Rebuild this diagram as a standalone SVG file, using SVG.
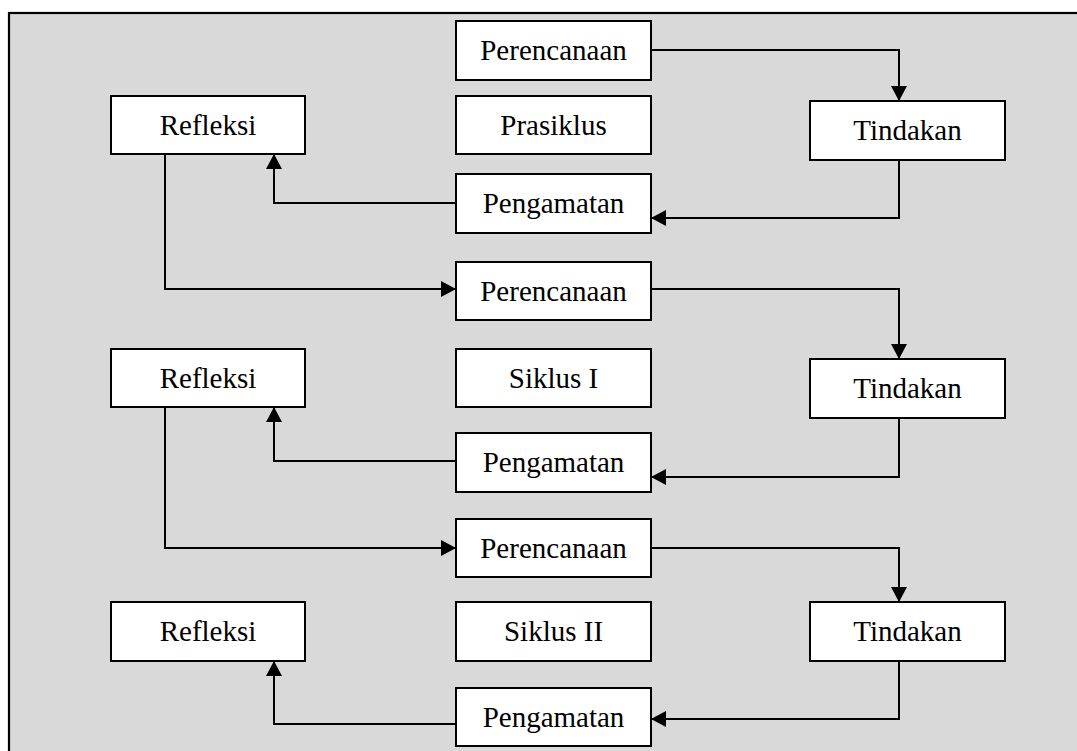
<svg xmlns="http://www.w3.org/2000/svg" width="1077" height="751" viewBox="0 0 1077 751" font-family="Times New Roman" font-size="29">
<defs>
<marker id="ah" viewBox="0 0 15 16" refX="15" refY="8" markerWidth="15" markerHeight="16" markerUnits="userSpaceOnUse" orient="auto">
<path d="M0,0 L15,8 L0,16 z" fill="#000"/>
</marker>
</defs>
<rect x="0" y="0" width="1077" height="751" fill="#ffffff"/>
<rect x="9" y="13" width="1080" height="760" fill="#d9d9d9" stroke="#000" stroke-width="2.2"/>
<g id="connectors" fill="none" stroke="#000" stroke-width="2" marker-end="url(#ah)">
<path d="M651,50 H899 V101"/>
<path d="M899,160 V218 H651"/>
<path d="M456,203 H274 V154"/>
<path d="M165,154 V289 H456"/>
<path d="M651,289 H899 V359"/>
<path d="M899,418 V477 H651"/>
<path d="M456,461 H274 V407"/>
<path d="M165,407 V548 H456"/>
<path d="M651,548 H899 V602"/>
<path d="M899,661 V719 H651"/>
<path d="M456,724 H274 V661"/>
</g>
<g id="nodes" text-anchor="middle">
<g id="perencanaan1"><rect x="456" y="21" width="195" height="59" fill="#fff" stroke="#000" stroke-width="2"/><text x="553.5" y="60">Perencanaan</text></g>
<g id="prasiklus"><rect x="456" y="96" width="195" height="58" fill="#fff" stroke="#000" stroke-width="2"/><text x="553.5" y="135">Prasiklus</text></g>
<g id="pengamatan1"><rect x="456" y="174" width="195" height="59" fill="#fff" stroke="#000" stroke-width="2"/><text x="553.5" y="213">Pengamatan</text></g>
<g id="refleksi1"><rect x="111" y="96" width="194" height="58" fill="#fff" stroke="#000" stroke-width="2"/><text x="208" y="135">Refleksi</text></g>
<g id="tindakan1"><rect x="810" y="101" width="195" height="59" fill="#fff" stroke="#000" stroke-width="2"/><text x="907.5" y="140">Tindakan</text></g>
<g id="perencanaan2"><rect x="456" y="262" width="195" height="58" fill="#fff" stroke="#000" stroke-width="2"/><text x="553.5" y="301">Perencanaan</text></g>
<g id="siklus1"><rect x="456" y="349" width="195" height="58" fill="#fff" stroke="#000" stroke-width="2"/><text x="553.5" y="388">Siklus I</text></g>
<g id="pengamatan2"><rect x="456" y="433" width="195" height="59" fill="#fff" stroke="#000" stroke-width="2"/><text x="553.5" y="472">Pengamatan</text></g>
<g id="refleksi2"><rect x="111" y="349" width="194" height="58" fill="#fff" stroke="#000" stroke-width="2"/><text x="208" y="388">Refleksi</text></g>
<g id="tindakan2"><rect x="810" y="359" width="195" height="59" fill="#fff" stroke="#000" stroke-width="2"/><text x="907.5" y="398">Tindakan</text></g>
<g id="perencanaan3"><rect x="456" y="519" width="195" height="58" fill="#fff" stroke="#000" stroke-width="2"/><text x="553.5" y="558">Perencanaan</text></g>
<g id="siklus2"><rect x="456" y="602" width="195" height="59" fill="#fff" stroke="#000" stroke-width="2"/><text x="553.5" y="641">Siklus II</text></g>
<g id="pengamatan3"><rect x="456" y="688" width="195" height="58" fill="#fff" stroke="#000" stroke-width="2"/><text x="553.5" y="727">Pengamatan</text></g>
<g id="refleksi3"><rect x="111" y="602" width="194" height="59" fill="#fff" stroke="#000" stroke-width="2"/><text x="208" y="641">Refleksi</text></g>
<g id="tindakan3"><rect x="810" y="602" width="195" height="59" fill="#fff" stroke="#000" stroke-width="2"/><text x="907.5" y="641">Tindakan</text></g>
</g>
</svg>
